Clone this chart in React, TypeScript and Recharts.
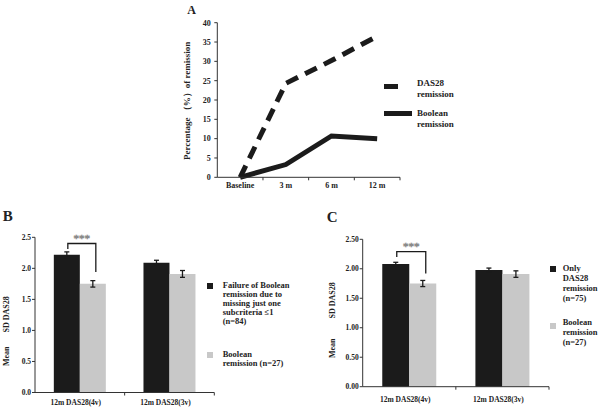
import React from 'react';
import { LineChart, Line, BarChart, Bar, XAxis, YAxis, ErrorBar, Legend } from 'recharts';

// ---------- Panel A data ----------
const timepoints = ['Baseline', '3 m', '6 m', '12 m'];
const das28RemissionPct = [0, 24.3, 30.2, 36.5];
const booleanRemissionPct = [0, 3.3, 10.7, 10.0];
const pctTicks = [0, 5, 10, 15, 20, 25, 30, 35, 40];

// ---------- Panel B / C data ----------
const measures = ['12m DAS28(4v)', '12m DAS28(3v)'];
const bFailureMean = [2.22, 2.09];
const bFailureSd = [0.045, 0.04];
const bBooleanMean = [1.75, 1.91];
const bBooleanSd = [0.052, 0.055];
const bTicks = [0, 0.5, 1, 1.5, 2, 2.5];

const cOnlyDasMean = [2.08, 1.98];
const cOnlyDasSd = [0.03, 0.032];
const cBooleanMean = [1.75, 1.91];
const cBooleanSd = [0.052, 0.055];
const cTicks = [0, 0.5, 1, 1.5, 2, 2.5];

// significance bracket levels (data units): [top, left leg end, right leg end]
const bBracket = [2.4, 2.31, 1.94];
const cBracket = [2.29, 2.2, 1.92];

const dataA = timepoints.map((t, i) => ({ t, das: das28RemissionPct[i], bool: booleanRemissionPct[i] }));
const dataB = measures.map((m, i) => ({ m, a: bFailureMean[i], aErr: bFailureSd[i], b: bBooleanMean[i], bErr: bBooleanSd[i] }));
const dataC = measures.map((m, i) => ({ m, a: cOnlyDasMean[i], aErr: cOnlyDasSd[i], b: cBooleanMean[i], bErr: cBooleanSd[i] }));

const FONT = '"Liberation Serif", "Times New Roman", serif';
const INK = '#1b1b1b';
const GREY = '#c8c8c8';
const AXIS = '#333';
const TXT = '#222';

const makeCatTick = (fontSize: number, dxText: number, tickSize: number, tickMargin: number) => (props: any) => {
  const { x, y, payload } = props;
  const off = payload && payload.offset != null ? payload.offset : 0;
  const axisY = y - tickSize - tickMargin;
  return (
    <g>
      <text x={x + dxText} y={y} dy={fontSize * 0.78} textAnchor="middle" fontSize={fontSize} fontWeight="bold" fontFamily={FONT} fill={TXT}>
        {payload.value}
      </text>
      <line x1={x + off} x2={x + off} y1={axisY} y2={axisY + 3} stroke={AXIS} strokeWidth={1} />
    </g>
  );
};

const makeBracket = (levels: number[], mainData: number[]) => (props: any) => {
  const { x, y, width, height, index } = props;
  if (index !== 0) return null;
  const base = y + height;
  const k = height / mainData[0];
  const Y = (v: number) => base - v * k;
  const lx = x + width / 2 + 1;
  const rx = x + width * 1.5 + 3;
  const top = Y(levels[0]);
  return (
    <g>
      <polyline points={`${lx},${Y(levels[1])} ${lx},${top} ${rx},${top} ${rx},${Y(levels[2])}`} fill="none" stroke={INK} strokeWidth={1.3} />
      <text x={(lx + rx) / 2} y={top - 2} textAnchor="middle" fontSize={11} fontFamily={FONT} fill="#fff" stroke="#8a8a8a" strokeWidth={0.6}>***</text>
    </g>
  );
};

const LegendA = () => (
  <div style={{ position: 'relative', width: 90, height: 55, fontFamily: FONT, fontWeight: 'bold', fontSize: 9, lineHeight: '11px', color: TXT, whiteSpace: 'nowrap' }}>
    <svg style={{ position: 'absolute', left: 0, top: 0 }} width={30} height={45}>
      <line x1={0} x2={28} y1={8.5} y2={8.5} stroke={INK} strokeWidth={5} strokeDasharray="14 20" />
      <line x1={0} x2={28} y1={35.5} y2={35.5} stroke={INK} strokeWidth={5} />
    </svg>
    <div style={{ position: 'absolute', left: 33, top: 0 }}>DAS28<br />remission</div>
    <div style={{ position: 'absolute', left: 33, top: 30 }}>Boolean<br />remission</div>
  </div>
);

const LegendB = () => (
  <div style={{ position: 'relative', width: 92, height: 92, fontFamily: FONT, fontWeight: 'bold', fontSize: 8.5, lineHeight: '9px', color: TXT, whiteSpace: 'nowrap' }}>
    <div style={{ position: 'absolute', left: 0, top: 2, width: 6, height: 6, background: INK }} />
    <div style={{ position: 'absolute', left: 15.7, top: 0 }}>Failure of Boolean<br />remission due to<br />missing just one<br />subcriteria ≤1<br />(n=84)</div>
    <div style={{ position: 'absolute', left: 0, top: 71.5, width: 6, height: 6, background: GREY }} />
    <div style={{ position: 'absolute', left: 15.7, top: 69.3 }}>Boolean<br />remission (n=27)</div>
  </div>
);

const LegendC = () => (
  <div style={{ position: 'relative', width: 50, height: 90, fontFamily: FONT, fontWeight: 'bold', fontSize: 8.5, lineHeight: '10px', color: TXT, whiteSpace: 'nowrap' }}>
    <div style={{ position: 'absolute', left: 0, top: 2.5, width: 6, height: 6, background: INK }} />
    <div style={{ position: 'absolute', left: 12.7, top: 0 }}>Only<br />DAS28<br />remission<br />(n=75)</div>
    <div style={{ position: 'absolute', left: 0, top: 60, width: 6, height: 6, background: GREY }} />
    <div style={{ position: 'absolute', left: 12.7, top: 54 }}>Boolean<br />remission<br />(n=27)</div>
  </div>
);

const yTickStyle = (fs: number) => ({ fontSize: fs, fontWeight: 'bold' as const, fontFamily: FONT, fill: TXT });

const meanLabel = (x: number, y: number, gap: number) => () => (
  <text transform={`rotate(-90 ${x} ${y})`} x={x} y={y} dominantBaseline="central" fontSize={8} fontWeight="bold" fontFamily={FONT} fill={TXT}>
    Mean<tspan dx={gap}>SD DAS28</tspan>
  </text>
);

export default function App() {
  return (
    <div style={{ position: 'absolute', left: 0, top: 0, width: 600, height: 410, background: '#fff', overflow: 'hidden' }}>
      <svg style={{ position: 'absolute', left: 0, top: 0 }} width={600} height={410}>
        <text x={187.3} y={14} fontSize={12} fontWeight="bold" fontFamily={FONT} fill={TXT}>A</text>
        <text x={2.7} y={220.7} fontSize={15} fontWeight="bold" fontFamily={FONT} fill={TXT}>B</text>
        <text x={326.7} y={221.7} fontSize={15} fontWeight="bold" fontFamily={FONT} fill={TXT}>C</text>
      </svg>

      {/* Panel A */}
      <div style={{ position: 'absolute', left: 170, top: 0 }}>
        <LineChart width={300} height={195} data={dataA} margin={{ top: 22.7, right: 70, bottom: 3.7, left: 25.3 }}>
          <XAxis dataKey="t" scale="band" interval={0} height={14} tickSize={3} tickMargin={1} tickLine={false}
            axisLine={{ stroke: AXIS }} tick={makeCatTick(8, 0, 3, 1)} />
          <YAxis domain={[0, 40]} ticks={pctTicks} width={22} tickSize={3} tickMargin={3.5} interval={0}
            axisLine={{ stroke: AXIS }} tickLine={{ stroke: AXIS }} tick={yTickStyle(8)}
            label={() => (
              <text transform="rotate(-90 16.7 100.8)" x={16.7} y={100.8} textAnchor="middle" dominantBaseline="central" fontSize={9} fontWeight="bold" fontFamily={FONT} fill={TXT}>
                Percentage （%）of remission
              </text>
            )} />
          <Line dataKey="das" type="linear" stroke={INK} strokeWidth={5} strokeDasharray="13 8" dot={false} isAnimationActive={false} />
          <Line dataKey="bool" type="linear" stroke={INK} strokeWidth={5} dot={false} isAnimationActive={false} />
          <Legend layout="horizontal" verticalAlign="middle" align="center" content={LegendA}
            wrapperStyle={{ left: 214, top: 77.5, width: 90, height: 55 }} />
        </LineChart>
      </div>

      {/* Panel B */}
      <div style={{ position: 'absolute', left: 0, top: 205 }}>
        <BarChart width={300} height={205} data={dataB} margin={{ top: 32.3, right: 85.7, bottom: 3.5, left: 10 }} barCategoryGap="21%" barGap={0}>
          <XAxis dataKey="m" interval={0} height={14} tickSize={3} tickMargin={4} tickLine={false}
            axisLine={{ stroke: AXIS }} tick={makeCatTick(7.5, -4, 3, 4)} />
          <YAxis domain={[0, 2.5]} ticks={bTicks} width={25} tickSize={3} tickMargin={1} interval={0}
            tickFormatter={(v: number) => v.toFixed(1)}
            axisLine={{ stroke: AXIS }} tickLine={{ stroke: AXIS }} tick={yTickStyle(7.5)}
            label={meanLabel(6, 161, 14)} />
          <Bar dataKey="a" fill={INK} isAnimationActive={false} label={makeBracket(bBracket, bFailureMean)}>
            <ErrorBar dataKey="aErr" width={2.5} strokeWidth={1.3} stroke={INK} />
          </Bar>
          <Bar dataKey="b" fill={GREY} isAnimationActive={false}>
            <ErrorBar dataKey="bErr" width={2.5} strokeWidth={1.3} stroke={INK} />
          </Bar>
          <Legend layout="horizontal" verticalAlign="middle" align="center" content={LegendB}
            wrapperStyle={{ left: 207, top: 75.5, width: 92, height: 92 }} />
        </BarChart>
      </div>

      {/* Panel C */}
      <div style={{ position: 'absolute', left: 300, top: 205 }}>
        <BarChart width={300} height={205} data={dataC} margin={{ top: 34.3, right: 51, bottom: 9.3, left: 32.7 }} barCategoryGap="21%" barGap={0}>
          <XAxis dataKey="m" interval={0} height={14} tickSize={3} tickMargin={6} tickLine={false}
            axisLine={{ stroke: AXIS }} tick={makeCatTick(7.5, -4, 3, 6)} />
          <YAxis domain={[0, 2.5]} ticks={cTicks} width={30} tickSize={3} tickMargin={1} interval={0}
            tickFormatter={(v: number) => v.toFixed(2)}
            axisLine={{ stroke: AXIS }} tickLine={{ stroke: AXIS }} tick={yTickStyle(7.5)}
            label={meanLabel(32.3, 153, 20)} />
          <Bar dataKey="a" fill={INK} isAnimationActive={false} label={makeBracket(cBracket, cOnlyDasMean)}>
            <ErrorBar dataKey="aErr" width={2.5} strokeWidth={1.3} stroke={INK} />
          </Bar>
          <Bar dataKey="b" fill={GREY} isAnimationActive={false}>
            <ErrorBar dataKey="bErr" width={2.5} strokeWidth={1.3} stroke={INK} />
          </Bar>
          <Legend layout="horizontal" verticalAlign="middle" align="center" content={LegendC}
            wrapperStyle={{ left: 250, top: 58, width: 50, height: 90 }} />
        </BarChart>
      </div>
    </div>
  );
}
